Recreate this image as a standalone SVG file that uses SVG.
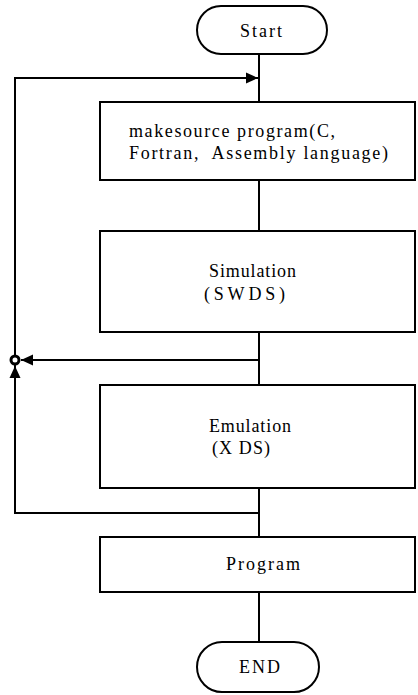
<svg xmlns="http://www.w3.org/2000/svg" width="418" height="695" viewBox="0 0 418 695">
<style>
.s{fill:none;stroke:#000;stroke-width:2}
.b{fill:#fff;stroke:#000;stroke-width:2}
</style>
<defs>
<marker id="ah" markerWidth="14" markerHeight="12" refX="12" refY="6" orient="auto" markerUnits="userSpaceOnUse">
<path d="M0,0.5 L12,6 L0,11.5 Z" fill="#000"/>
</marker>
</defs>
<rect width="418" height="695" fill="#fff"/>
<g id="connectors">
<line class="s" x1="259" y1="54" x2="259" y2="102"/>
<polyline class="s" points="259,513 15,513 15,78 258,78" marker-end="url(#ah)"/>
<line class="s" x1="259" y1="180" x2="259" y2="231"/>
<line class="s" x1="259" y1="332" x2="259" y2="385"/>
<line class="s" x1="259" y1="360" x2="21" y2="360" marker-end="url(#ah)"/>
<line class="s" x1="15" y1="400" x2="15" y2="366" marker-end="url(#ah)"/>
<circle cx="15" cy="360" r="4" fill="#fff" stroke="#000" stroke-width="3"/>
<line class="s" x1="259" y1="488" x2="259" y2="537"/>
<line class="s" x1="259" y1="592" x2="259" y2="642"/>
</g>
<g font-family="Liberation Serif, Times New Roman, serif" font-size="18" fill="#000">
<g id="start">
<rect class="b" x="197" y="6" width="130" height="48" rx="24" ry="24"/>
<text x="240" y="37" textLength="42" lengthAdjust="spacing">Start</text>
</g>
<g id="makesource">
<rect class="b" x="100" y="102" width="315" height="78"/>
<text x="129" y="137" textLength="206" lengthAdjust="spacing">makesource program(C,</text>
<text x="129" y="159" textLength="259" lengthAdjust="spacing" xml:space="preserve">Fortran,  Assembly language)</text>
</g>
<g id="simulation">
<rect class="b" x="100" y="231" width="315" height="101"/>
<text x="209" y="277" textLength="87" lengthAdjust="spacing">Simulation</text>
<text x="204" y="300" textLength="81" lengthAdjust="spacing">(SWDS)</text>
</g>
<g id="emulation">
<rect class="b" x="100" y="385" width="315" height="103"/>
<text x="209" y="432" textLength="82" lengthAdjust="spacing">Emulation</text>
<text x="212" y="454" textLength="58" lengthAdjust="spacing">(X DS)</text>
</g>
<g id="program">
<rect class="b" x="100" y="537" width="315" height="55"/>
<text x="226" y="570" textLength="74" lengthAdjust="spacing">Program</text>
</g>
<g id="end">
<rect class="b" x="197" y="642" width="122" height="50" rx="25" ry="25"/>
<text x="239" y="673" textLength="41" lengthAdjust="spacing">END</text>
</g>
</g>
</svg>
